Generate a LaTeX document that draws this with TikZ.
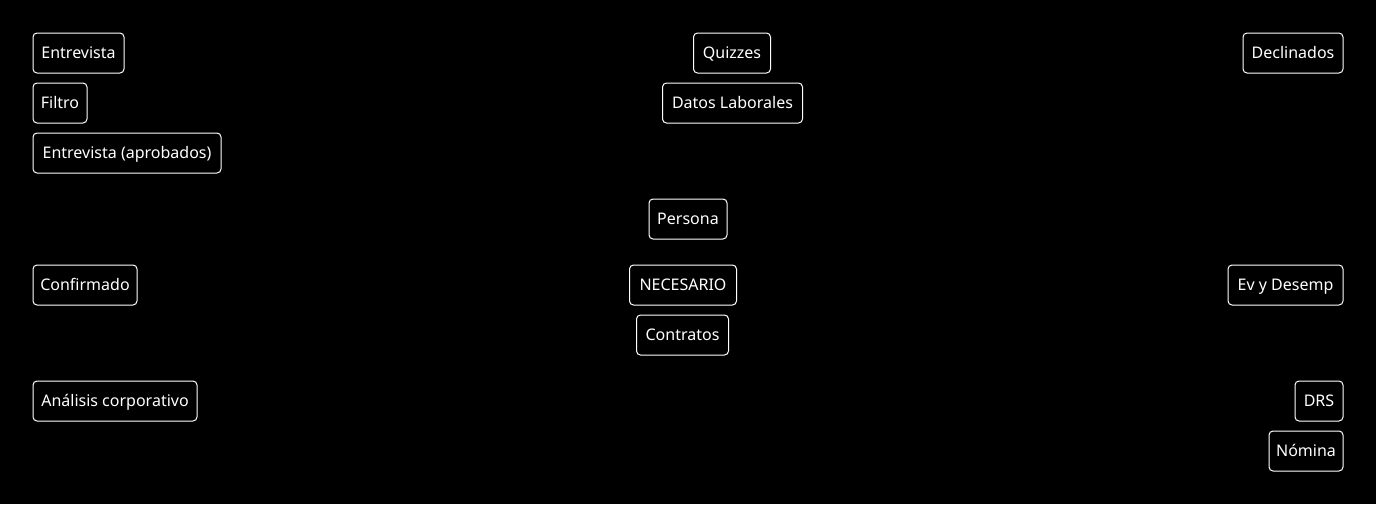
\documentclass[tikz,border=0pt]{standalone}
\usepackage{fontspec}
\setmainfont{Noto Sans}
\begin{document}
\begin{tikzpicture}[x=1pt,y=-1pt,
  box/.style={draw=white, line width=1pt, rounded corners=4pt, text=white,
    inner sep=0pt, minimum height=40pt, anchor=center,
    text height=11.4pt, text depth=0pt,
    font=\fontsize{16pt}{19pt}\selectfont},
]
\fill[black] (0,0) rectangle (1376,504);
\useasboundingbox (0,0) rectangle (1376,504);
\node[box, minimum width=91pt]  (entrevista) at (78.5,53)  {Entrevista};
\node[box, minimum width=54pt]  (filtro)     at (60,103)   {Filtro};
\node[box, minimum width=188pt] (aprobados)  at (127,153)  {Entrevista (aprobados)};
\node[box, minimum width=77pt]  (quizzes)    at (732,53)   {Quizzes};
\node[box, minimum width=140pt] (datos)      at (732.5,103) {Datos Laborales};
\node[box, minimum width=100pt] (declinados) at (1293,53)  {Declinados};
\node[box, minimum width=78pt]  (persona)    at (688,219)  {Persona};
\node[box, minimum width=104pt] (confirmado) at (85,285)   {Confirmado};
\node[box, minimum width=107pt] (necesario)  at (683,285)  {NECESARIO};
\node[box, minimum width=92pt]  (contratos)  at (682.5,335) {Contratos};
\node[box, minimum width=115pt] (evdesemp)   at (1285.5,285) {Ev y Desemp};
\node[box, minimum width=164pt] (analisis)   at (115,401)  {Análisis corporativo};
\node[box, minimum width=48pt]  (drs)        at (1319,401) {DRS};
\node[box, minimum width=74pt]  (nomina)     at (1306,451) {Nómina};
\end{tikzpicture}
\end{document}
